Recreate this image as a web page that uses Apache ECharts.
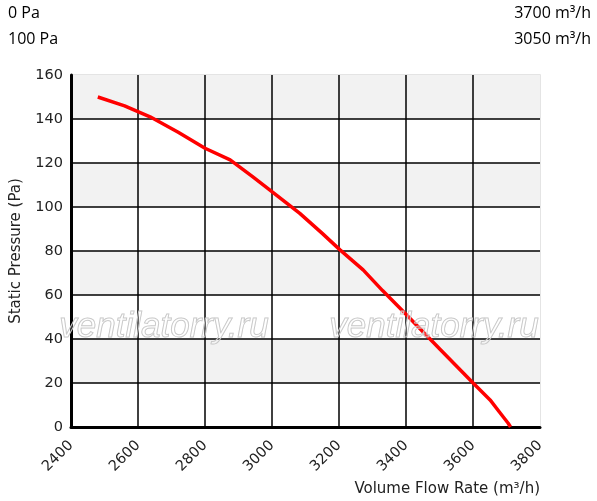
<!DOCTYPE html>
<html>
<head>
<meta charset="utf-8">
<script src="https://cdn.jsdelivr.net/npm/echarts@6/dist/echarts.min.js"></script>
<style>html,body{margin:0;padding:0;background:#fff}#c{width:597px;height:501px}</style>
</head>
<body>
<div id="c"></div>
<script>
var flow = [2480, 2560, 2636, 2720, 2800, 2875, 2940, 2994, 3083, 3150, 3203, 3272, 3330, 3397, 3500, 3601, 3651, 3680, 3705, 3712];
var pressure = [150, 146, 141, 134, 126.7, 121.4, 114, 107.7, 97.1, 88, 80.5, 71.4, 62, 51.7, 35.6, 19.9, 12.3, 6.6, 1.7, 0];
var infoLeft = ['0 Pa', '100 Pa'];
var infoRight = ['3700 m³/h', '3050 m³/h'];
var watermark = 'ventilatorry.ru';
var xTitle = 'Volume Flow Rate (m³/h)';
var yTitle = 'Static Pressure (Pa)';

var chart = echarts.init(document.getElementById('c'), null, {renderer: 'canvas'});
var topFont = {fontFamily: 'Open Sans', fontSize: 16, fill: '#000'};
var wmStyle = {fontFamily: 'Liberation Sans', fontStyle: 'italic', fontSize: 35, fill: 'rgba(255,255,255,0.2)', stroke: '#c4c4c4', lineWidth: 1, textAlign: 'center', textVerticalAlign: 'middle'};
chart.setOption({
  animation: false,
  backgroundColor: '#fff',
  grid: {left: 71, right: 57, top: 75, bottom: 74, show: true, borderColor: '#dcdcdc', borderWidth: 1.5, backgroundColor: 'transparent'},
  xAxis: {
    type: 'value', min: 2400, max: 3800, interval: 200,
    axisLine: {show: true, onZero: false, lineStyle: {color: '#000', width: 3}},
    axisTick: {show: false},
    axisLabel: {rotate: 45, margin: 16, fontFamily: 'DejaVu Sans', fontSize: 14.5, color: '#222', formatter: function (v) { return String(v); }},
    splitLine: {show: true, showMinLine: false, showMaxLine: false, lineStyle: {color: '#000', width: 1.5}}
  },
  yAxis: {
    type: 'value', min: 0, max: 160, interval: 20,
    name: yTitle, nameLocation: 'middle', nameGap: 47,
    nameTextStyle: {fontFamily: 'DejaVu Sans', fontSize: 15, color: '#222'},
    axisLine: {show: true, lineStyle: {color: '#000', width: 3}},
    axisTick: {show: false},
    axisLabel: {margin: 8, fontFamily: 'DejaVu Sans', fontSize: 14.5, color: '#222'},
    splitLine: {show: true, showMinLine: false, showMaxLine: false, lineStyle: {color: '#000', width: 1.5}},
    splitArea: {show: true, areaStyle: {color: ['#ffffff', '#f2f2f2']}}
  },
  series: [{
    type: 'line', showSymbol: false, smooth: false,
    data: flow.map(function (f, i) { return [f, pressure[i]]; }),
    lineStyle: {color: '#ff0000', width: 3.5}, z: 5
  }],
  graphic: [
    {type: 'text', left: 8, top: 5, style: Object.assign({text: infoLeft[0]}, topFont)},
    {type: 'text', left: 8, top: 31, style: Object.assign({text: infoLeft[1]}, topFont)},
    {type: 'text', right: 6, top: 5, style: Object.assign({text: infoRight[0]}, topFont)},
    {type: 'text', right: 6, top: 31, style: Object.assign({text: infoRight[1]}, topFont)},
    {type: 'text', x: 540, y: 489, style: {text: xTitle, fontFamily: 'DejaVu Sans', fontSize: 15, fill: '#222', textAlign: 'right', textVerticalAlign: 'middle'}},
    {type: 'text', x: 164, y: 327, z: 100, style: Object.assign({text: watermark}, wmStyle)},
    {type: 'text', x: 434, y: 327, z: 100, style: Object.assign({text: watermark}, wmStyle)}
  ]
});
</script>
</body>
</html>
